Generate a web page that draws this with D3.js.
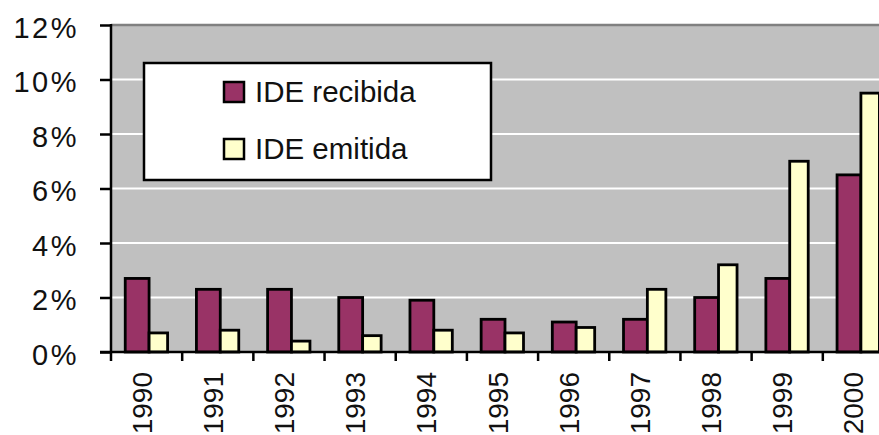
<!DOCTYPE html>
<meta charset="utf-8">
<style>
body { margin: 0; background: #fff; }
svg { display: block; font-family: "Liberation Sans", Arial, sans-serif; }
.axis path, .axis line { stroke: #000; stroke-width: 2.5; }
.axis text { font-size: 28px; fill: #111; }
.yaxis text { font-size: 29px; letter-spacing: 2.5px; }
.legend text { font-size: 29.5px; fill: #111; }
</style>
<svg width="879" height="435"></svg>
<script src="https://cdn.jsdelivr.net/npm/d3@7"></script>
<script>

var years = ["1990","1991","1992","1993","1994","1995","1996","1997","1998","1999","2000"];
var recibida = [2.7, 2.3, 2.3, 2.0, 1.9, 1.2, 1.1, 1.2, 2.0, 2.7, 6.5];
var emitida  = [0.7, 0.8, 0.4, 0.6, 0.8, 0.7, 0.9, 2.3, 3.2, 7.0, 9.5];
var seriesNames = ["IDE recibida", "IDE emitida"];
var yTicks = [0, 2, 4, 6, 8, 10, 12];

var svg = d3.select("svg"),
    pLeft = 111, pTop = 25, pBottom = 352, pRight = 894;

var x = d3.scaleBand().domain(years).range([pLeft, pRight]);
var y = d3.scaleLinear().domain([0, 12]).range([pBottom, pTop]);
var bw = x.bandwidth();

// plot background
svg.append("rect")
    .attr("x", pLeft).attr("y", pTop)
    .attr("width", pRight - pLeft).attr("height", pBottom - pTop)
    .attr("fill", "#c0c0c0");

// gridlines
svg.append("g").selectAll("line")
    .data(yTicks.filter(function(d){ return d > 0 && d < 12; }))
    .enter().append("line")
    .attr("x1", pLeft).attr("x2", pRight)
    .attr("y1", function(d){ return y(d); })
    .attr("y2", function(d){ return y(d); })
    .attr("stroke", "#fff").attr("stroke-width", 2);

svg.append("line")
    .attr("x1", pLeft).attr("x2", pRight)
    .attr("y1", y(12)).attr("y2", y(12))
    .attr("stroke", "#808080").attr("stroke-width", 2.5);

// bars
var g = svg.append("g");
g.selectAll(".rec").data(recibida).enter().append("rect")
    .attr("x", function(d, i){ return x(years[i]) + bw * 0.2; })
    .attr("width", bw * 0.335)
    .attr("y", function(d){ return y(d); })
    .attr("height", function(d){ return y(0) - y(d); })
    .attr("fill", "#993366").attr("stroke", "#000").attr("stroke-width", 2.8);

g.selectAll(".emi").data(emitida).enter().append("rect")
    .attr("x", function(d, i){ return x(years[i]) + bw * 0.535; })
    .attr("width", bw * 0.26)
    .attr("y", function(d){ return y(d); })
    .attr("height", function(d){ return y(0) - y(d); })
    .attr("fill", "#ffffcc").attr("stroke", "#000").attr("stroke-width", 2.8);

// y axis
var yAxis = d3.axisLeft(y).tickValues(yTicks).tickSize(11).tickPadding(21)
    .tickFormat(function(d){ return d + "%"; });
var ya = svg.append("g").attr("class", "axis yaxis")
    .attr("transform", "translate(" + pLeft + ",0)")
    .call(yAxis);
ya.select(".domain").attr("d", "M0," + (pTop - 1) + "V" + pBottom);
ya.selectAll("text").attr("dy", "0.42em");

// x axis
var xa = svg.append("g").attr("class", "axis")
    .attr("transform", "translate(0," + pBottom + ")");
xa.append("line").attr("x1", pLeft - 11).attr("x2", pRight).attr("y1", 0).attr("y2", 0);
xa.selectAll(".tk").data(years).enter().append("line")
    .attr("x1", function(d){ return x(d); }).attr("x2", function(d){ return x(d); })
    .attr("y1", 0).attr("y2", 9);
xa.selectAll(".lbl").data(years).enter().append("text")
    .attr("transform", function(d){
        return "translate(" + (x(d) + bw / 2 + 5) + ",20) rotate(-90)";
    })
    .attr("text-anchor", "end")
    .text(function(d){ return d; });

// legend
var lg = svg.append("g").attr("class", "legend");
lg.append("rect")
    .attr("x", 144).attr("y", 63).attr("width", 347).attr("height", 117)
    .attr("fill", "#fff").attr("stroke", "#000").attr("stroke-width", 2.5);
var colors = ["#993366", "#ffffcc"];
var items = lg.selectAll(".item").data(seriesNames).enter().append("g")
    .attr("transform", function(d, i){ return "translate(224," + (82 + i * 57) + ")"; });
items.append("rect")
    .attr("width", 20).attr("height", 20)
    .attr("fill", function(d, i){ return colors[i]; })
    .attr("stroke", "#000").attr("stroke-width", 2.5);
items.append("text")
    .attr("x", 31).attr("y", 19.5)
    .text(function(d){ return d; });

</script>
